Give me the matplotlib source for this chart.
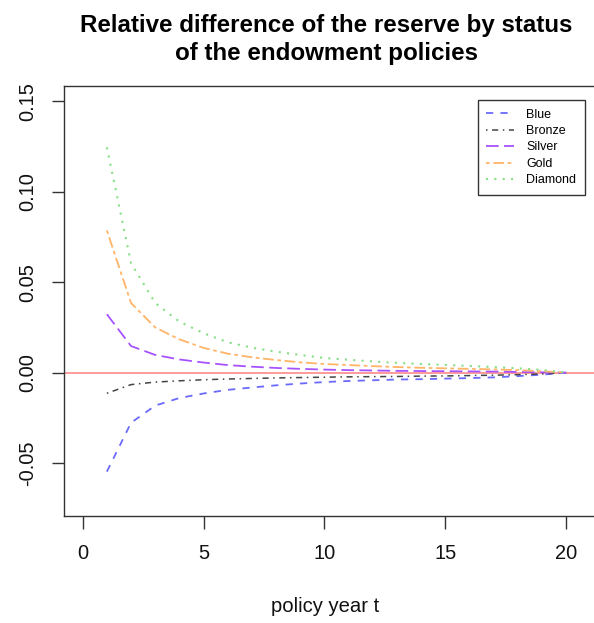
import matplotlib
matplotlib.use("Agg")
import matplotlib.pyplot as plt

plt.rcParams['font.family'] = ['Liberation Sans', 'DejaVu Sans']

# policy years and relative differences by status
years = list(range(1, 21))
blue = [-0.0547, -0.0277, -0.0182, -0.0140, -0.0115, -0.0095, -0.0082, -0.0070, -0.0060, -0.0052,
        -0.0046, -0.0042, -0.0038, -0.0036, -0.0033, -0.0030, -0.0026, -0.0019, -0.0011, 0.0]
bronze = [-0.0114, -0.0066, -0.0052, -0.0045, -0.0039, -0.0035, -0.0032, -0.0029, -0.0027, -0.0025,
          -0.0023, -0.0022, -0.0021, -0.0019, -0.0018, -0.0016, -0.0014, -0.0011, -0.0007, 0.0]
silver = [0.0323, 0.0147, 0.0098, 0.0073, 0.0056, 0.0042, 0.0033, 0.0026, 0.0021, 0.0017,
          0.0014, 0.0012, 0.0010, 0.0009, 0.0008, 0.0007, 0.0006, 0.0004, 0.0002, 0.0]
gold = [0.0786, 0.0385, 0.0250, 0.0184, 0.0137, 0.0105, 0.0085, 0.0070, 0.0057, 0.0048,
        0.0042, 0.0036, 0.0031, 0.0027, 0.0024, 0.0021, 0.0018, 0.0014, 0.0008, 0.0]
diamond = [0.1245, 0.0605, 0.0385, 0.0282, 0.0218, 0.0168, 0.0138, 0.0116, 0.0098, 0.0081,
           0.0071, 0.0062, 0.0054, 0.0048, 0.0043, 0.0037, 0.0031, 0.0024, 0.0015, 0.0]

xticks = [0, 5, 10, 15, 20]
yticks = [-0.05, 0.00, 0.05, 0.10, 0.15]

W, H = 594, 623
fig = plt.figure(figsize=(W / 100, H / 100), dpi=100)
ax = fig.add_axes([64 / W, 1 - 516 / H, 1 - 64 / W, (516 - 86) / H])

ax.axhline(0, color='#ff8080', lw=1.1, zorder=1)

ax.plot(years, blue, color='#6a6aff', lw=1.3, ls=(0, (4, 4)), label='Blue')
ax.plot(years, bronze, color='#444444', lw=1.1, ls=(0, (1, 3, 4, 3)), label='Bronze')
ax.plot(years, silver, color='#a852ff', lw=1.3, ls=(0, (7, 3)), label='Silver')
ax.plot(years, gold, color='#ffb468', lw=1.3, ls=(0, (2, 2, 6, 2)), label='Gold')
ax.plot(years, diamond, color='#86de86', lw=1.5, ls=(0, (1, 3)), label='Diamond')

ax.set_xlim(-0.773, 21.15)
ax.set_ylim(-0.0792, 0.1584)
ax.set_xticks(xticks)
ax.set_yticks(yticks)
ax.set_yticklabels(['%.2f' % v for v in yticks])
ax.tick_params(axis='both', direction='out', length=9, width=1, color='#333333',
               labelsize=14.4, labelcolor='#111111')
ax.tick_params(axis='x', pad=11)
ax.tick_params(axis='y', pad=10)
for lbl in ax.get_yticklabels():
    lbl.set_rotation(90)
    lbl.set_va('center')

ax.spines['right'].set_visible(False)
for s in ['left', 'bottom', 'top']:
    ax.spines[s].set_color('#333333')
    ax.spines[s].set_linewidth(1)

leg = ax.legend(loc='upper right', bbox_to_anchor=(585 / W, 1 - 100 / H),
                bbox_transform=fig.transFigure, borderaxespad=0, fontsize=9,
                fancybox=False, framealpha=1, edgecolor='#333333',
                handlelength=2.2, handletextpad=1.0, labelspacing=0.35, borderpad=0.7)
leg.get_frame().set_linewidth(1)

# title and axis label centered on the plot region
fig.text(326 / W, 1 - 31.7 / H, 'Relative difference of the reserve by status',
         ha='center', va='baseline', fontsize=17.4, fontweight='bold')
fig.text(326 / W, 1 - 60 / H, 'of the endowment policies',
         ha='center', va='baseline', fontsize=17.4, fontweight='bold')
fig.text(325 / W, 1 - 611.7 / H, 'policy year t', ha='center', va='baseline',
         fontsize=14.6, color='#111111')

fig.savefig('out.png', dpi=100)
